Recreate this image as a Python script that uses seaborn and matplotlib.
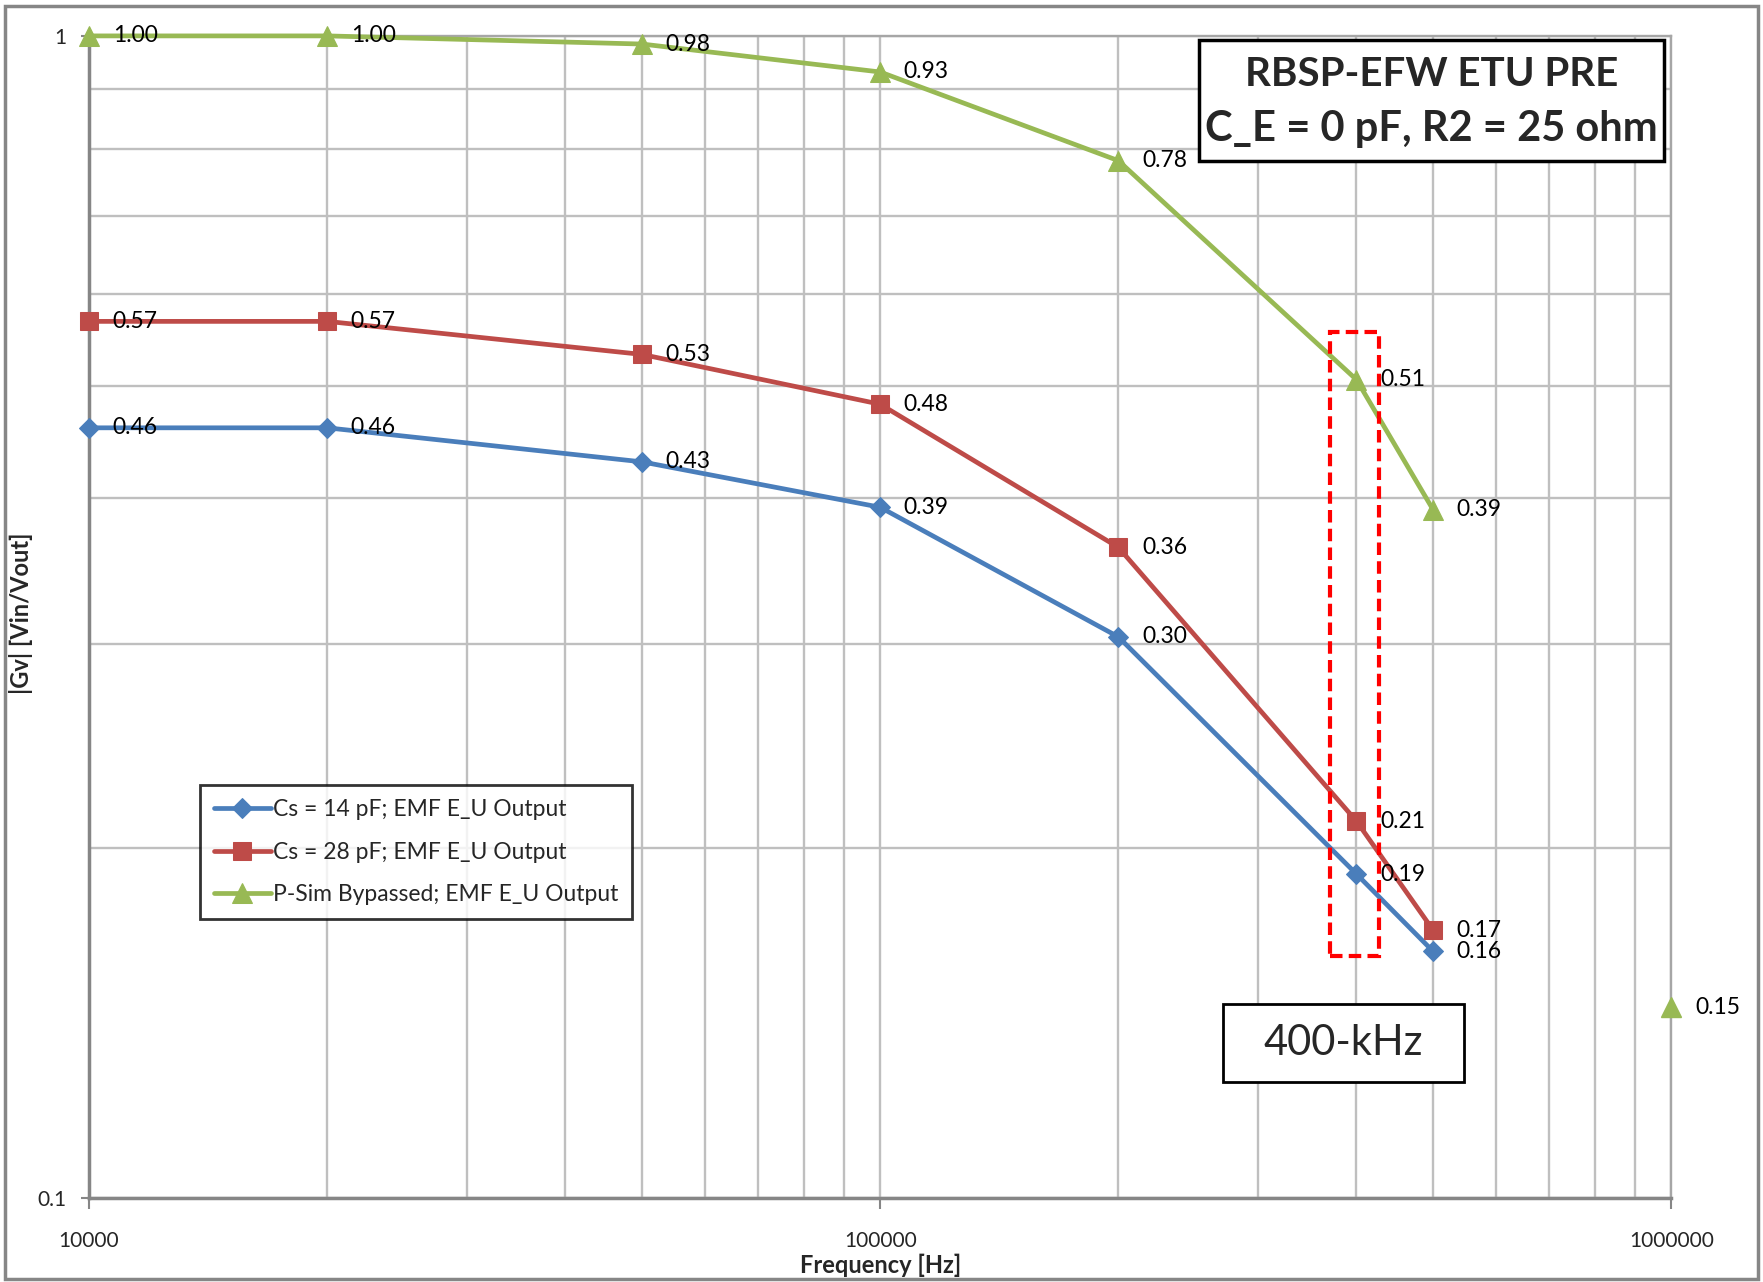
import matplotlib
matplotlib.use("Agg")
import matplotlib.pyplot as plt
import matplotlib.ticker as mticker
from matplotlib.patches import Rectangle
import seaborn as sns
import pandas as pd

# data
freq = [10000, 20000, 50000, 100000, 200000, 400000, 500000]
cs14 = [0.46, 0.46, 0.43, 0.393, 0.304, 0.19, 0.163]
cs28 = [0.568, 0.568, 0.532, 0.482, 0.363, 0.211, 0.17]
bypassed = [1.00, 1.00, 0.984, 0.931, 0.781, 0.506, 0.391]
bypassed_extra_x = [1000000]
bypassed_extra_y = [0.146]

series_names = ["Cs = 14 pF; EMF E_U Output",
                "Cs = 28 pF; EMF E_U Output",
                "P-Sim Bypassed; EMF E_U Output"]
colors = ["#4A7EBB", "#BE4B48", "#98B954"]
markers = ["D", "s", "^"]
marker_sizes = [10, 13, 14]

x_ticks = [10000, 100000, 1000000]
x_tick_labels = ["10000", "100000", "1000000"]
y_ticks = [0.1, 1]
y_tick_labels = ["0.1", "1"]

sns.set_style("white")
plt.rcParams["font.family"] = ["Lato", "DejaVu Sans"]

fig = plt.figure(figsize=(17.63, 12.82), dpi=100)
ax = fig.add_axes([0.0505, 0.0655, 0.8975, 0.9065])

all_y = [cs14, cs28, bypassed]
for name, ys, col, mk, ms in zip(series_names, all_y, colors, markers, marker_sizes):
    df = pd.DataFrame({"freq": freq, "gain": ys})
    sns.lineplot(data=df, x="freq", y="gain", ax=ax, color=col, marker=mk,
                 markersize=ms, markeredgecolor=col, linewidth=3.4,
                 label=name, clip_on=False, zorder=5)
    for xv, yv in zip(freq, ys):
        ax.annotate(f"{yv:.2f}", (xv, yv), xytext=(17, 0), textcoords="offset points",
                    ha="left", va="center", fontsize=16.5, color="black", zorder=6)

# isolated last bypassed point
ax.plot(bypassed_extra_x, bypassed_extra_y, linestyle="none", marker="^",
        markersize=14, color=colors[2], clip_on=False, zorder=5)
for xv, yv in zip(bypassed_extra_x, bypassed_extra_y):
    ax.annotate(f"{yv:.2f}", (xv, yv), xytext=(17, 0), textcoords="offset points",
                ha="left", va="center", fontsize=16.5, color="black", zorder=6)

ax.set_xscale("log")
ax.set_yscale("log")
ax.set_xlim(10000, 1000000)
ax.set_ylim(0.1, 1)

ax.xaxis.set_major_locator(mticker.FixedLocator(x_ticks))
ax.xaxis.set_major_formatter(mticker.FixedFormatter(x_tick_labels))
ax.yaxis.set_major_locator(mticker.FixedLocator(y_ticks))
ax.yaxis.set_major_formatter(mticker.FixedFormatter(y_tick_labels))
ax.xaxis.set_minor_locator(mticker.LogLocator(base=10, subs=range(2, 10)))
ax.yaxis.set_minor_locator(mticker.LogLocator(base=10, subs=range(2, 10)))
ax.xaxis.set_minor_formatter(mticker.NullFormatter())
ax.yaxis.set_minor_formatter(mticker.NullFormatter())

ax.grid(True, which="both", color="#BFBFBF", linewidth=1.7)
ax.tick_params(axis="x", which="major", length=8, width=1.5, color="#868686",
               pad=16, labelsize=15, direction="out", bottom=True)
ax.tick_params(axis="y", which="major", length=6, width=1.5, color="#868686",
               pad=10, labelsize=15, direction="out", left=True)
ax.tick_params(which="minor", length=0)

for side in ["left", "bottom"]:
    ax.spines[side].set_color("#868686")
    ax.spines[side].set_linewidth(2.5)
for side in ["top", "right"]:
    ax.spines[side].set_color("#A6A6A6")
    ax.spines[side].set_linewidth(1.7)

ax.set_xlabel("Frequency [Hz]", fontsize=17, fontweight="bold", labelpad=2)
ax.set_ylabel("|Gv| [Vin/Vout]", fontsize=17, fontweight="bold")
ax.yaxis.set_label_coords(-0.0354, 0.503)

leg = ax.legend(loc="upper left", bbox_to_anchor=(0.070, 0.3554), borderaxespad=0,
                fontsize=16.5, frameon=True, fancybox=False, handlelength=2.5,
                handletextpad=0.1, labelspacing=0.95, borderpad=0.6)
leg.get_frame().set_edgecolor("black")
leg.get_frame().set_linewidth(2)
leg.set_zorder(7)

# red dashed highlight around 400 kHz
ax.add_patch(Rectangle((0.784, 0.208), 0.031, 0.537, transform=ax.transAxes,
                       fill=False, edgecolor="#FF0000", linewidth=3, linestyle=(0, (3, 1.5)),
                       zorder=8))

# title box
fig.patches.append(Rectangle((0.680, 0.8744), 0.264, 0.0944, transform=fig.transFigure,
                             facecolor="white", edgecolor="black", linewidth=2.5, zorder=9))
fig.text(0.812, 0.942, "RBSP-EFW ETU PRE", ha="center", va="center",
         fontsize=29, fontweight="bold", zorder=10)
fig.text(0.812, 0.899, "C_E = 0 pF, R2 = 25 ohm", ha="center", va="center",
         fontsize=30, fontweight="bold", zorder=10)

# 400-kHz box
fig.patches.append(Rectangle((0.6937, 0.156), 0.1367, 0.0608, transform=fig.transFigure,
                             facecolor="white", edgecolor="black", linewidth=2, zorder=9))
fig.text(0.7618, 0.1865, "400-kHz", ha="center", va="center", fontsize=30, zorder=10)

# outer chart border
fig.patches.append(Rectangle((0.003, 0.002), 0.994, 0.993, transform=fig.transFigure,
                             fill=False, edgecolor="#868686", linewidth=2.5))

fig.savefig("out.png", dpi=100)
